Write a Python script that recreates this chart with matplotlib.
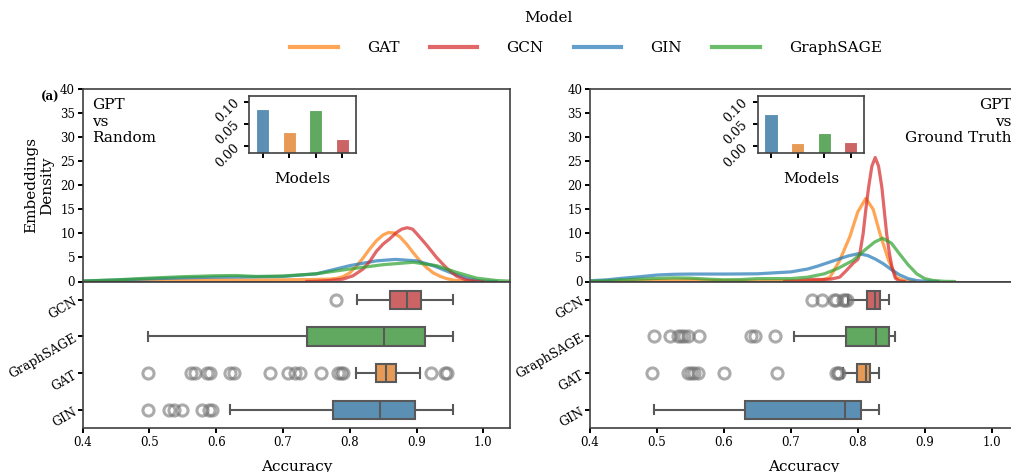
import colorsys
import matplotlib
matplotlib.use("Agg")
import matplotlib.pyplot as plt
import matplotlib.colors as mcolors
from matplotlib.lines import Line2D

plt.rcParams['font.family'] = ['DejaVu Serif']

# ---------------- data ----------------
models = ["GAT", "GCN", "GIN", "GraphSAGE"]
base_colors = {"GAT": "#ff7f0e", "GCN": "#d62728", "GIN": "#1f77b4", "GraphSAGE": "#2ca02c"}

box_order = ["GCN", "GraphSAGE", "GAT", "GIN"]
bar_order = ["GIN", "GAT", "GraphSAGE", "GCN"]

# inset bar values
bars_random = [0.083, 0.032, 0.081, 0.015]
bars_truth = [0.071, 0.007, 0.029, 0.008]

# KDE curves (x, density) -- GPT vs Random
rand_gat_x = [0.40, 0.45, 0.50, 0.55, 0.60, 0.65, 0.70, 0.74, 0.77, 0.78, 0.79, 0.80, 0.81, 0.82, 0.83, 0.84, 0.85, 0.858, 0.866, 0.875, 0.885, 0.895, 0.905, 0.915, 0.925, 0.935, 0.945, 0.955, 0.97, 0.99]
rand_gat_y = [0.0, 0.05, 0.2, 0.3, 0.35, 0.3, 0.35, 0.4, 0.5, 0.65, 1.0, 1.8, 3.2, 4.9, 6.8, 8.5, 9.7, 10.2, 10.1, 9.3, 7.8, 6.0, 4.3, 2.9, 1.8, 1.1, 0.6, 0.3, 0.1, 0.0]
rand_gcn_x = [0.735, 0.75, 0.77, 0.79, 0.805, 0.82, 0.83, 0.84, 0.85, 0.86, 0.87, 0.878, 0.886, 0.894, 0.90, 0.915, 0.93, 0.945, 0.96, 0.975, 0.99, 1.0]
rand_gcn_y = [0.0, 0.05, 0.2, 0.5, 1.2, 2.6, 4.2, 6.3, 7.8, 8.9, 10.2, 10.9, 11.2, 10.9, 10.0, 7.6, 5.0, 2.8, 1.1, 0.3, 0.05, 0.0]
rand_gin_x = [0.40, 0.45, 0.50, 0.55, 0.60, 0.65, 0.70, 0.75, 0.80, 0.84, 0.868, 0.90, 0.925, 0.95, 0.975, 0.995, 1.02]
rand_gin_y = [0.1, 0.3, 0.55, 0.75, 0.9, 0.95, 1.05, 1.6, 3.3, 4.3, 4.6, 4.3, 3.3, 1.9, 0.7, 0.1, 0.0]
rand_sage_x = [0.40, 0.45, 0.50, 0.55, 0.60, 0.63, 0.66, 0.70, 0.75, 0.80, 0.85, 0.895, 0.93, 0.96, 0.99, 1.02, 1.04]
rand_sage_y = [0.1, 0.35, 0.7, 1.0, 1.2, 1.25, 1.05, 1.15, 1.6, 2.6, 3.5, 4.0, 3.3, 1.9, 0.7, 0.2, 0.08]

# KDE curves -- GPT vs Ground Truth
truth_gat_x = [0.40, 0.45, 0.49, 0.52, 0.55, 0.58, 0.61, 0.65, 0.68, 0.72, 0.745, 0.758, 0.773, 0.788, 0.80, 0.812, 0.823, 0.833, 0.846, 0.858, 0.87, 0.885]
truth_gat_y = [0.0, 0.05, 0.2, 0.25, 0.35, 0.2, 0.15, 0.1, 0.15, 0.1, 0.3, 0.8, 4.4, 9.3, 14.5, 17.3, 15.0, 10.0, 4.4, 0.8, 0.15, 0.0]
truth_gcn_x = [0.69, 0.71, 0.73, 0.75, 0.76, 0.773, 0.783, 0.793, 0.80, 0.803, 0.808, 0.812, 0.816, 0.821, 0.826, 0.831, 0.836, 0.843, 0.847, 0.851, 0.856, 0.862, 0.87]
truth_gcn_y = [0.0, 0.15, 0.45, 0.4, 0.5, 0.9, 2.3, 3.8, 4.6, 5.8, 10.0, 15.0, 19.5, 24.0, 25.8, 24.0, 19.5, 10.0, 6.0, 3.0, 0.7, 0.1, 0.0]
truth_gin_x = [0.40, 0.425, 0.45, 0.475, 0.50, 0.525, 0.55, 0.60, 0.65, 0.70, 0.725, 0.74, 0.755, 0.77, 0.785, 0.801, 0.815, 0.827, 0.838, 0.85, 0.862, 0.875, 0.888, 0.90, 0.92]
truth_gin_y = [0.15, 0.35, 0.7, 1.0, 1.35, 1.5, 1.55, 1.55, 1.6, 2.0, 2.6, 3.2, 3.9, 4.6, 5.3, 5.8, 5.4, 4.6, 3.7, 2.5, 1.4, 0.6, 0.2, 0.05, 0.0]
truth_sage_x = [0.40, 0.425, 0.45, 0.475, 0.50, 0.525, 0.55, 0.575, 0.60, 0.625, 0.65, 0.675, 0.70, 0.725, 0.75, 0.77, 0.793, 0.81, 0.825, 0.837, 0.85, 0.862, 0.875, 0.888, 0.90, 0.913, 0.93, 0.945]
truth_sage_y = [0.05, 0.15, 0.35, 0.5, 0.65, 0.75, 0.7, 0.5, 0.35, 0.4, 0.6, 0.6, 0.6, 0.9, 1.6, 2.7, 4.4, 6.5, 8.2, 9.0, 8.0, 5.8, 3.5, 1.6, 0.6, 0.2, 0.03, 0.0]

# boxplot statistics (whislo, q1, median, q3, whishi, fliers)
rand_box = {
    "GCN": (0.811, 0.861, 0.886, 0.906, 0.955, [0.780]),
    "GraphSAGE": (0.498, 0.7355, 0.852, 0.913, 0.954, []),
    "GAT": (0.810, 0.839, 0.855, 0.869, 0.905,
            [0.498, 0.562, 0.568, 0.586, 0.590, 0.620, 0.626, 0.680, 0.708, 0.718, 0.725, 0.757, 0.782, 0.787, 0.790, 0.922, 0.942, 0.946]),
    "GIN": (0.620, 0.775, 0.846, 0.897, 0.955, [0.498, 0.529, 0.537, 0.548, 0.579, 0.589, 0.593]),
}
truth_box = {
    "GCN": (0.786, 0.813, 0.825, 0.833, 0.846, [0.731, 0.746, 0.765, 0.768, 0.778, 0.781, 0.784]),
    "GraphSAGE": (0.704, 0.783, 0.827, 0.846, 0.855, [0.496, 0.520, 0.532, 0.536, 0.540, 0.546, 0.563, 0.641, 0.646, 0.677]),
    "GAT": (0.778, 0.799, 0.812, 0.818, 0.832, [0.493, 0.547, 0.551, 0.556, 0.562, 0.600, 0.680, 0.767, 0.770, 0.772]),
    "GIN": (0.496, 0.631, 0.781, 0.805, 0.832, []),
}

density_ticks = [0, 5, 10, 15, 20, 25, 30, 35, 40]
acc_ticks = [0.4, 0.5, 0.6, 0.7, 0.8, 0.9, 1.0]
inset_ticks = [0.00, 0.05, 0.10]


def desat(c, prop=0.75):
    r, g, b = mcolors.to_rgb(c)
    h, l, s = colorsys.rgb_to_hls(r, g, b)
    return colorsys.hls_to_rgb(h, l, s * prop)


muted = {m: desat(base_colors[m]) for m in models}

W, H = 1011, 472
fig = plt.figure(figsize=(W / 100, H / 100), dpi=100)


def fx(p):
    return p / W


def fy(p):
    return 1 - p / H


spine_c = '0.25'


def style_axes(ax):
    for s in ax.spines.values():
        s.set_color(spine_c)
        s.set_linewidth(1.2)
    ax.tick_params(length=3.5, width=1.4, color='black', labelsize=8.5, pad=2)


def panel(left_px, right_px, curves, box, bars, inset_left_px, label, label_right):
    top, mid, bot = 89.3, 281.5, 428.0
    axd = fig.add_axes([fx(left_px), fy(mid), fx(right_px - left_px), (mid - top) / H])
    axb = fig.add_axes([fx(left_px), fy(bot), fx(right_px - left_px), (bot - mid) / H])
    for name, xs, ys in curves:
        axd.plot(xs, ys, color=base_colors[name], alpha=0.7, lw=2.3,
                 solid_capstyle='round', solid_joinstyle='round')
    axd.set_xlim(0.4, 1.04)
    axd.set_ylim(0, 40)
    axd.set_yticks(density_ticks)
    axd.set_xticks([])
    style_axes(axd)
    if label_right:
        axd.text(0.984, 0.955, label, transform=axd.transAxes, ha='right', va='top',
                 multialignment='right', fontsize=11, linespacing=1.25)
    else:
        axd.text(0.022, 0.955, label, transform=axd.transAxes, ha='left', va='top',
                 fontsize=11, linespacing=1.25)

    stats = []
    for m in box_order:
        lo, q1, med, q3, hi, fl = box[m]
        stats.append(dict(whislo=lo, q1=q1, med=med, q3=q3, whishi=hi, fliers=fl))
    bp = axb.bxp(stats, positions=range(len(box_order)), vert=False, widths=0.5,
                 patch_artist=True, showfliers=True, capwidths=0.25,
                 boxprops=dict(edgecolor='0.35', linewidth=1.5),
                 whiskerprops=dict(color='0.35', linewidth=1.5),
                 capprops=dict(color='0.35', linewidth=1.5),
                 medianprops=dict(color='0.35', linewidth=1.5),
                 flierprops=dict(marker='o', markerfacecolor='none', markeredgecolor='0.45',
                                 markersize=8, markeredgewidth=2.2, alpha=0.6))
    for patch, m in zip(bp['boxes'], box_order):
        patch.set_facecolor(muted[m] + (0.8,))
    axb.set_ylim(3.5, -0.5)
    axb.set_yticks(range(len(box_order)))
    axb.set_yticklabels(box_order, rotation=30, ha='right', rotation_mode='anchor')
    axb.set_xlim(0.4, 1.04)
    axb.set_xticks(acc_ticks)
    axb.set_xticklabels([f"{t:.1f}" for t in acc_ticks])
    style_axes(axb)
    axb.tick_params(axis='y', labelsize=9)
    axb.set_xlabel("Accuracy", fontsize=11, labelpad=8)

    axi = fig.add_axes([fx(inset_left_px), fy(152.8), fx(106.4), (152.8 - 95.5) / H])
    ylo = -0.016
    axi.bar(range(len(bar_order)), [v - ylo for v in bars], bottom=ylo, width=0.5,
            color=[muted[m] + (0.8,) for m in bar_order], edgecolor='white', linewidth=0.8)
    axi.set_xlim(-0.5, 3.5)
    axi.set_ylim(ylo, 0.114)
    axi.set_yticks(inset_ticks)
    axi.set_yticklabels([f"{t:.2f}" for t in inset_ticks], rotation=45, fontsize=9)
    axi.set_xticks(range(len(bar_order)))
    axi.set_xticklabels([])
    style_axes(axi)
    axi.tick_params(labelsize=9)
    axi.set_xlabel("Models", fontsize=11, labelpad=8)
    return axd, axb


left_curves = [("GAT", rand_gat_x, rand_gat_y), ("GIN", rand_gin_x, rand_gin_y),
               ("GCN", rand_gcn_x, rand_gcn_y), ("GraphSAGE", rand_sage_x, rand_sage_y)]
right_curves = [("GAT", truth_gat_x, truth_gat_y), ("GIN", truth_gin_x, truth_gin_y),
                ("GCN", truth_gcn_x, truth_gcn_y), ("GraphSAGE", truth_sage_x, truth_sage_y)]

axd1, axb1 = panel(82.7, 510.0, left_curves, rand_box, bars_random, 249.3, "GPT\nvs\nRandom", False)
axd2, axb2 = panel(590.0, 1018.5, right_curves, truth_box, bars_truth, 757.7, "GPT\nvs\nGround Truth", True)
axd1.set_ylabel("Embeddings\nDensity", fontsize=11, labelpad=4)

fig.text(fx(41), fy(97), "(a)", fontsize=8.5, fontweight='bold', ha='left', va='center')

# legend
handles = [Line2D([0], [0], color=base_colors[m], alpha=0.7, lw=3) for m in models]
leg = fig.legend(handles, models, loc='center', bbox_to_anchor=(fx(586), fy(48)), ncol=4,
                 frameon=False, fontsize=11, handlelength=3.1, handletextpad=1.9,
                 columnspacing=2.0)
fig.text(fx(548), fy(18), "Model", fontsize=11, ha='center', va='center')

fig.savefig("out.png", dpi=100)
